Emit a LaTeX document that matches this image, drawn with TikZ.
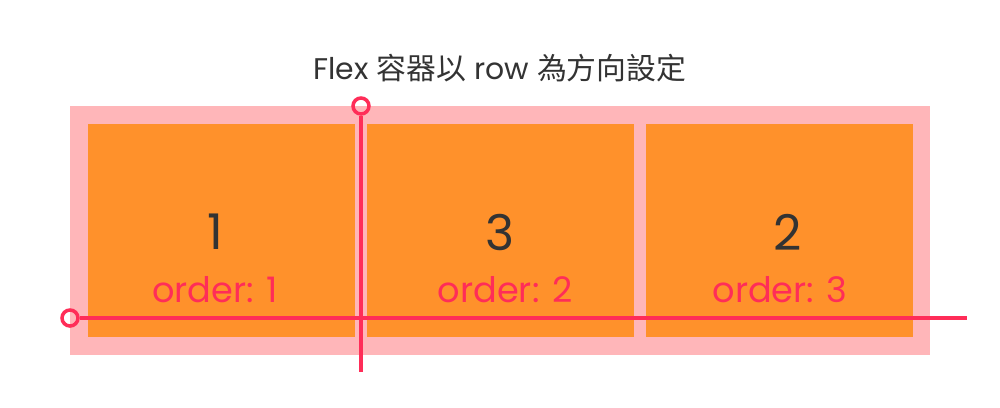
\documentclass[tikz,border=0pt]{standalone}
\usepackage{fontspec}
\setmainfont{Poppins}
\newfontfamily\cjk{Noto Sans CJK TC}
\usetikzlibrary{positioning}

\definecolor{flexpink}{RGB}{255,182,185}
\definecolor{itemorange}{RGB}{255,145,43}
\definecolor{axisred}{RGB}{255,45,88}
\definecolor{textdark}{RGB}{51,51,51}

\tikzset{
  container/.style={fill=flexpink, minimum width=17.2cm, minimum height=4.98cm, inner sep=0pt},
  item/.style={fill=itemorange, minimum width=5.34cm, minimum height=4.26cm, inner sep=0pt},
  digit/.style={text=textdark, font=\fontsize{28}{28}\selectfont},
  orderlabel/.style={text=axisred, font=\fontsize{20}{20}\selectfont},
  axisline/.style={draw=axisred, line width=2pt},
  axisend/.style={circle, draw=axisred, line width=2pt, minimum size=0.32cm, inner sep=0pt},
}

\begin{document}
\begin{tikzpicture}[x=0.02cm, y=-0.02cm]
    \useasboundingbox (0,0) rectangle (1000,407);

    % Title
    \node[text=textdark, font=\fontsize{17}{17}\selectfont] (title) at (500,68) {Flex {\cjk 容器以} row {\cjk 為方向設定}};

    % Flex container and its items
    \node[container] (flex) at (500,230.5) {};
    \node[item] (itemA) at (221.5,230.5) {};
    \node[item] (itemB) at (500.5,230.5) {};
    \node[item] (itemC) at (779.5,230.5) {};

    % Item labels
    \node[digit] (digitA) at (215,232) {1};
    \node[digit] (digitB) at (500,232) {3};
    \node[digit] (digitC) at (788,232) {2};
    \node[orderlabel] (orderA) at (215,290) {order: 1};
    \node[orderlabel] (orderB) at (505,290) {order: 2};
    \node[orderlabel] (orderC) at (780,290) {order: 3};

    % Cross axis (vertical)
    \node[axisend] (crossStart) at (361,106) {};
    \coordinate (crossEnd) at (361,372);
    \draw[axisline] (crossStart) -- (crossEnd);

    % Main axis (horizontal)
    \node[axisend] (mainStart) at (70,318) {};
    \coordinate (mainEnd) at (967,318);
    \draw[axisline] (mainStart) -- (mainEnd);
\end{tikzpicture}
\end{document}
